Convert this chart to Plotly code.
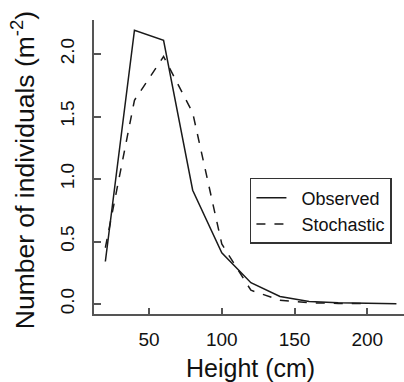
import plotly.graph_objects as go

height_cm = [20, 40, 60, 80, 100, 120, 140, 160, 180, 200, 220]
observed = [0.34, 2.19, 2.11, 0.91, 0.41, 0.17, 0.06, 0.02, 0.01, 0.005, 0.003]
height_stoch = [20, 40, 60, 80, 100, 120, 140, 160, 180, 200]
stochastic = [0.45, 1.63, 1.98, 1.53, 0.48, 0.11, 0.03, 0.01, 0.005, 0.003]

x_ticks = [50, 100, 150, 200]
y_ticks = [0.0, 0.5, 1.0, 1.5, 2.0]
y_tick_labels = ["0.0", "0.5", "1.0", "1.5", "2.0"]

series_names = ["Observed", "Stochastic"]
x_title = "Height (cm)"
y_title = "Number of individuals (m<sup>-2</sup>)"

FONT = "Liberation Sans, Arial, sans-serif"
PAD = "\u00a0\u00a0"

fig = go.Figure()
fig.add_trace(go.Scatter(x=height_cm, y=observed, mode="lines", name=PAD + series_names[0],
                         line=dict(color="#1a1a1a", width=1.5, dash="solid")))
fig.add_trace(go.Scatter(x=height_stoch, y=stochastic, mode="lines", name=PAD + series_names[1],
                         line=dict(color="#1a1a1a", width=1.5, dash="dash")))

fig.update_layout(
    width=404, height=382,
    margin=dict(l=94, r=0, t=20, b=68, autoexpand=False),
    paper_bgcolor="white", plot_bgcolor="white",
    font=dict(family=FONT, color="#222", size=18),
    showlegend=True,
    legend=dict(x=0.503, y=0.4626, xanchor="left", yanchor="top",
                bordercolor="#333", borderwidth=1.5, bgcolor="white",
                font=dict(size=18, family=FONT, color="#111"),
                tracegroupgap=0, itemwidth=30),
    xaxis=dict(range=[12.2, 225.2], tickvals=x_ticks, ticks="inside", ticklen=6,
               tickcolor="#555", tickwidth=1.5, showgrid=False, zeroline=False,
               showline=True, linecolor="#555", linewidth=2, automargin=False,
               ticklabelstandoff=7,
               tickfont=dict(size=19, family=FONT, color="#111")),
    yaxis=dict(range=[-0.08, 2.272], tickvals=y_ticks, ticktext=y_tick_labels,
               ticks="inside", ticklen=7, tickangle=-90,
               tickcolor="#555", tickwidth=1.5, showgrid=False, zeroline=False,
               showline=True, linecolor="#555", linewidth=2, automargin=False,
               ticklabelstandoff=10,
               tickfont=dict(size=19, family=FONT, color="#111")),
    annotations=[
        dict(text=x_title, xref="paper", yref="paper", x=0.506, y=-0.238,
             xanchor="center", yanchor="bottom", showarrow=False,
             font=dict(size=25, family=FONT, color="#111")),
        dict(text=y_title, xref="paper", yref="paper", x=-0.229, y=0.489,
             xanchor="center", yanchor="middle", showarrow=False, textangle=-90,
             font=dict(size=26.5, family=FONT, color="#111")),
    ],
)

fig.write_html("out.html", config={"displayModeBar": False},
               post_script="document.body.style.margin='0';document.body.style.overflow='hidden';")
